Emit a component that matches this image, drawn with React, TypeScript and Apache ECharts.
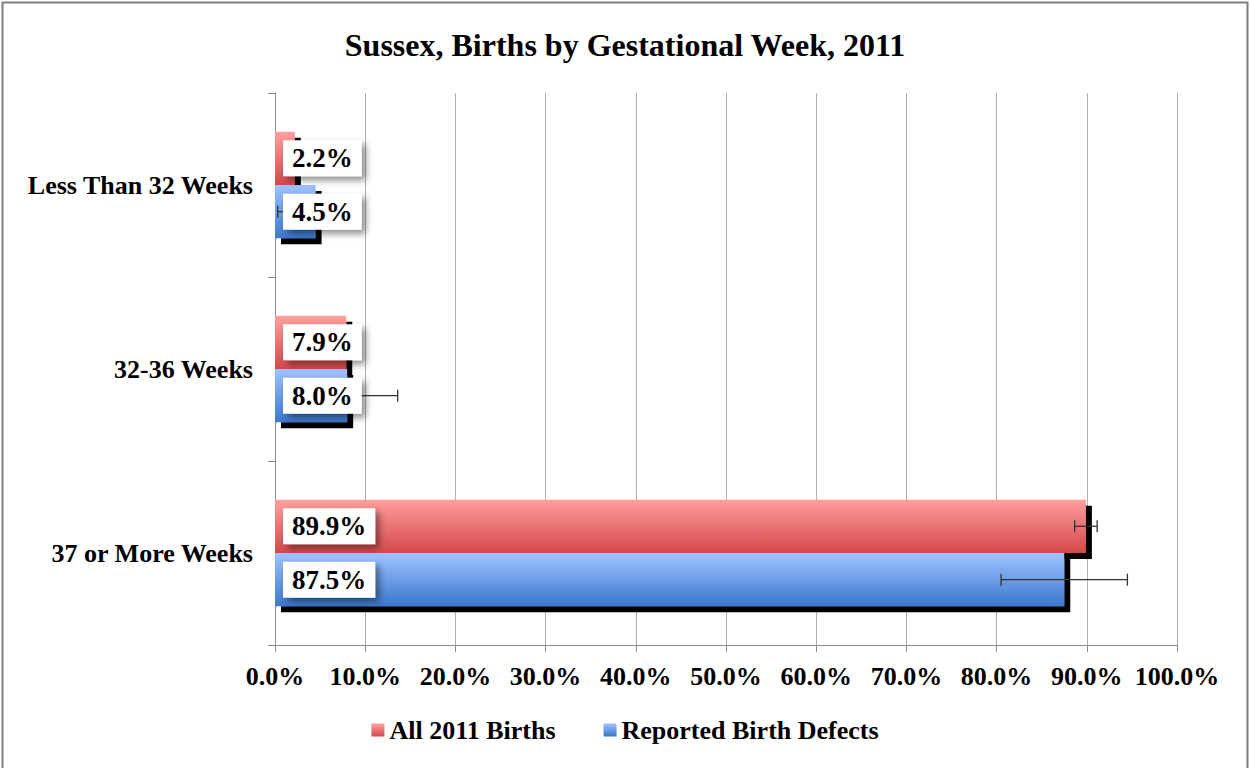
import React, { useEffect, useRef } from "react";
import * as echarts from "echarts";

const categories = ["Less Than 32 Weeks", "32-36 Weeks", "37 or More Weeks"];
const seriesNames = ["All 2011 Births", "Reported Birth Defects"];
const allBirths = [2.2, 7.9, 89.9];
const allBirthsErr = [0.4, 0.7, 1.25];
const birthDefects = [4.5, 8.0, 87.5];
const birthDefectsErr = [4.2, 5.6, 7.0];

const FONT = "'Liberation Serif', 'Times New Roman', serif";
const GAP = 0.42;

const redGrad = new echarts.graphic.LinearGradient(0, 0, 0, 1, [
  { offset: 0, color: "#ff9e9e" },
  { offset: 1, color: "#d4484a" },
]);
const blueGrad = new echarts.graphic.LinearGradient(0, 0, 0, 1, [
  { offset: 0, color: "#9ec4ff" },
  { offset: 1, color: "#3b77cc" },
]);

export default function App() {
  const ref = useRef<HTMLDivElement>(null);
  useEffect(() => {
    document.body.style.margin = "0";
    const chart = echarts.init(ref.current!, null, { renderer: "svg" });

    const errData: any[] = [];
    const labelData: any[] = [];
    categories.forEach((_, i) => {
      errData.push([allBirths[i], i, allBirthsErr[i], 0]);
      errData.push([birthDefects[i], i, birthDefectsErr[i], 1]);
      labelData.push([allBirths[i], i, 0]);
      labelData.push([birthDefects[i], i, 1]);
    });

    const offsetFor = (api: any, s: number) => {
      const bandH = api.size([0, 1])[1];
      const barH = (bandH * (1 - GAP)) / 2;
      return s === 0 ? -barH / 2 : barH / 2;
    };

    const barStyle = (grad: any) => ({
      color: grad,
      shadowColor: "#000",
      shadowBlur: 1,
      shadowOffsetX: 6,
      shadowOffsetY: 6,
    });

    chart.setOption({
      animation: false,
      backgroundColor: "#fff",
      title: {
        text: "Sussex, Births by Gestational Week, 2011",
        left: "center",
        top: 24,
        textStyle: { fontFamily: FONT, fontSize: 32, fontWeight: "bold", color: "#000" },
      },
      graphic: [
        {
          type: "rect",
          shape: { x: 2.5, y: 2.5, width: 1245, height: 770 },
          style: { fill: "none", stroke: "#7f7f7f", lineWidth: 2 },
          silent: true,
        },
      ],
      legend: {
        top: 712,
        left: "center",
        itemWidth: 13,
        itemHeight: 13,
        itemGap: 48,
        icon: "rect",
        data: seriesNames,
        textStyle: { fontFamily: FONT, fontSize: 26, fontWeight: "bold", color: "#000" },
      },
      grid: { left: 275, right: 73, top: 93, bottom: 123 },
      xAxis: {
        type: "value",
        min: 0,
        max: 100,
        interval: 10,
        axisLine: { show: true, lineStyle: { color: "#8c8c8c" } },
        axisTick: { show: true, length: 7, lineStyle: { color: "#8c8c8c" } },
        splitLine: { show: true, lineStyle: { color: "#b0b0b0", width: 1 } },
        axisLabel: {
          formatter: (v: number) => v.toFixed(1) + "%",
          fontFamily: FONT,
          fontSize: 26,
          fontWeight: "bold",
          color: "#000",
          margin: 18,
        },
      },
      yAxis: {
        type: "category",
        data: categories,
        inverse: true,
        axisLine: { show: true, lineStyle: { color: "#8c8c8c" } },
        axisTick: { show: true, length: 7, lineStyle: { color: "#8c8c8c" } },
        axisLabel: {
          fontFamily: FONT,
          fontSize: 26,
          fontWeight: "bold",
          color: "#000",
          margin: 22,
        },
      },
      series: [
        {
          name: seriesNames[0],
          type: "bar",
          data: allBirths,
          barCategoryGap: GAP * 100 + "%",
          barGap: "0%",
          itemStyle: barStyle(redGrad),
          z: 2,
        },
        {
          name: seriesNames[1],
          type: "bar",
          data: birthDefects,
          barCategoryGap: GAP * 100 + "%",
          barGap: "0%",
          itemStyle: barStyle(blueGrad),
          z: 2,
        },
        {
          type: "custom",
          name: "errors",
          z: 3,
          silent: true,
          data: errData,
          encode: { x: 0, y: 1 },
          renderItem: (params: any, api: any) => {
            const v = api.value(0);
            const c = api.value(1);
            const e = api.value(2);
            const s = api.value(3);
            const p1 = api.coord([v - e, c]);
            const p2 = api.coord([v + e, c]);
            const y = p1[1] + offsetFor(api, s);
            const cap = 6;
            const st = { stroke: "#333", lineWidth: 1.3 };
            return {
              type: "group",
              children: [
                { type: "line", shape: { x1: p1[0], y1: y, x2: p2[0], y2: y }, style: st },
                { type: "line", shape: { x1: p1[0], y1: y - cap, x2: p1[0], y2: y + cap }, style: st },
                { type: "line", shape: { x1: p2[0], y1: y - cap, x2: p2[0], y2: y + cap }, style: st },
              ],
            };
          },
        },
        {
          type: "custom",
          name: "labels",
          z: 4,
          silent: true,
          data: labelData,
          encode: { x: 0, y: 1 },
          renderItem: (params: any, api: any) => {
            const v = api.value(0);
            const c = api.value(1);
            const s = api.value(2);
            const p0 = api.coord([0, c]);
            const y = p0[1] + offsetFor(api, s);
            return {
              type: "text",
              x: p0[0] + 8,
              y: y,
              style: {
                text: v.toFixed(1) + "%",
                font: "bold 27px " + FONT,
                fill: "#000",
                align: "left",
                verticalAlign: "middle",
                backgroundColor: "#fff",
                padding: [5, 9, 4, 9],
                shadowColor: "rgba(0,0,0,0.45)",
                shadowBlur: 7,
                shadowOffsetX: 4,
                shadowOffsetY: 4,
              },
            };
          },
        },
      ],
    });
    return () => chart.dispose();
  }, []);
  return <div ref={ref} style={{ width: 1250, height: 768 }} />;
}
